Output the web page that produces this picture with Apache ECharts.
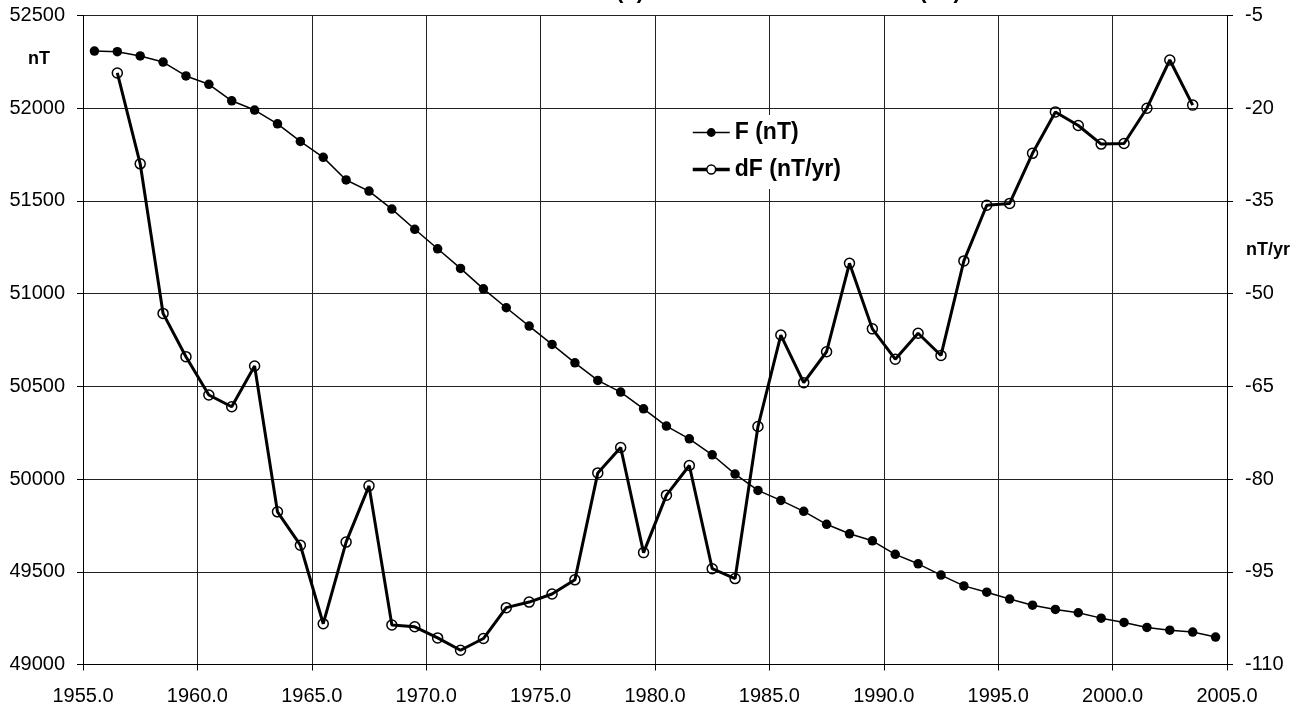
<!DOCTYPE html>
<html>
<head>
<meta charset="utf-8">
<script src="https://cdn.jsdelivr.net/npm/echarts@6/dist/echarts.min.js"></script>
<style>
html,body{margin:0;padding:0;background:#fff;}
#chart{width:1302px;height:707px;}
</style>
</head>
<body>
<div id="chart"></div>
<script>
// Years (mid-year epochs)
var yearsF = [1955.5,1956.5,1957.5,1958.5,1959.5,1960.5,1961.5,1962.5,1963.5,1964.5,
  1965.5,1966.5,1967.5,1968.5,1969.5,1970.5,1971.5,1972.5,1973.5,1974.5,
  1975.5,1976.5,1977.5,1978.5,1979.5,1980.5,1981.5,1982.5,1983.5,1984.5,
  1985.5,1986.5,1987.5,1988.5,1989.5,1990.5,1991.5,1992.5,1993.5,1994.5,
  1995.5,1996.5,1997.5,1998.5,1999.5,2000.5,2001.5,2002.5,2003.5,2004.5];
// Total field F (nT)
var valuesF = [52308,52305,52282,52249,52174,52129,52040,51990,51916,51821,
  51735,51613,51553,51456,51347,51242,51136,51026,50924,50825,
  50726,50627,50532,50469,50379,50286,50217,50131,50027,49939,
  49885,49826,49756,49705,49667,49594,49543,49482,49424,49390,
  49353,49320,49297,49279,49250,49227,49200,49185,49175,49148];
var yearsDF = [1956.5,1957.5,1958.5,1959.5,1960.5,1961.5,1962.5,1963.5,1964.5,
  1965.5,1966.5,1967.5,1968.5,1969.5,1970.5,1971.5,1972.5,1973.5,1974.5,
  1975.5,1976.5,1977.5,1978.5,1979.5,1980.5,1981.5,1982.5,1983.5,1984.5,
  1985.5,1986.5,1987.5,1988.5,1989.5,1990.5,1991.5,1992.5,1993.5,1994.5,
  1995.5,1996.5,1997.5,1998.5,1999.5,2000.5,2001.5,2002.5,2003.5];
// Secular variation dF (nT/yr)
var valuesDF = [-14.3,-29.0,-53.2,-60.2,-66.4,-68.3,-61.7,-85.3,-90.7,
  -103.4,-90.2,-81.1,-103.6,-103.9,-105.7,-107.7,-105.8,-100.8,-99.9,
  -98.6,-96.3,-79.0,-74.9,-91.9,-82.6,-77.8,-94.5,-96.1,-71.5,
  -56.7,-64.4,-59.4,-45.1,-55.7,-60.6,-56.4,-60.0,-44.7,-35.7,
  -35.4,-27.3,-20.6,-22.8,-25.8,-25.7,-20.0,-12.2,-19.5];
var seriesNames = ['F (nT)', 'dF (nT/yr)'];
var leftAxisName = 'nT';
var rightAxisName = 'nT/yr';
var titlePrefix = 'Annual Mean Values of the Total Field ';
var titleText = titlePrefix + '(F) and the Secular Variation (nT)';

var FONT = '"Liberation Sans", Arial, sans-serif';

function pairs(xs, ys){ var out=[]; for(var i=0;i<xs.length;i++){ out.push([xs[i], ys[i]]); } return out; }

var cv = document.createElement('canvas').getContext('2d');
cv.font = 'bold 22px "Liberation Sans"';
var prefixW = cv.measureText(titlePrefix).width;
var titleX = 616 - prefixW;

var chart = echarts.init(document.getElementById('chart'), null, {renderer:'canvas'});
var axisLabelStyle = {color:'#000', fontFamily:FONT, fontSize:20};
chart.setOption({
  animation:false,
  backgroundColor:'#fff',
  textStyle:{fontFamily:FONT},
  grid:{left:83, right:75, top:15.5, bottom:42.5, containLabel:false},
  legend:{
    orient:'vertical', left:685, top:115, itemWidth:37, itemHeight:11, itemGap:14,
    backgroundColor:'#fff', padding:[6,8,8,6],
    textStyle:{fontFamily:FONT, fontSize:23, fontWeight:'bold', color:'#000'},
    data:[
      {name:seriesNames[0], itemStyle:{color:'#000', borderWidth:0}, lineStyle:{color:'#000', width:1.5}},
      {name:seriesNames[1], itemStyle:{color:'#fff', borderColor:'#000', borderWidth:1.5}, lineStyle:{color:'#000', width:3.5}}
    ]
  },
  xAxis:{
    type:'value', min:1955, max:2005, interval:5,
    axisLine:{show:true, onZero:false, lineStyle:{color:'#000', width:1}},
    axisTick:{show:true, inside:false, length:6, lineStyle:{color:'#000'}},
    axisLabel:Object.assign({margin:22, formatter:function(v){return v.toFixed(1);}}, axisLabelStyle),
    splitLine:{show:true, lineStyle:{color:'#222', width:1}}
  },
  yAxis:[{
    type:'value', min:49000, max:52500, interval:500, position:'left',
    axisLine:{show:true, onZero:false, lineStyle:{color:'#000'}},
    axisTick:{show:true, inside:false, length:6, lineStyle:{color:'#000'}},
    axisLabel:Object.assign({margin:18, formatter:function(v){return String(v);}}, axisLabelStyle),
    splitLine:{show:true, lineStyle:{color:'#222', width:1}}
  },{
    type:'value', min:-110, max:-5, alignTicks:true, position:'right',
    axisLine:{show:true, onZero:false, lineStyle:{color:'#000'}},
    axisTick:{show:true, inside:false, length:6, lineStyle:{color:'#000'}},
    axisLabel:Object.assign({margin:18, formatter:function(v){return String(v);}}, axisLabelStyle),
    splitLine:{show:false}
  }],
  series:[{
    name:seriesNames[0], type:'line', yAxisIndex:0, data:pairs(yearsF, valuesF),
    symbol:'circle', symbolSize:9.5, showSymbol:true,
    lineStyle:{color:'#000', width:1.5},
    itemStyle:{color:'#000', borderWidth:0},
    z:3
  },{
    name:seriesNames[1], type:'line', yAxisIndex:1, data:pairs(yearsDF, valuesDF),
    symbol:'circle', symbolSize:10, showSymbol:true,
    lineStyle:{color:'#000', width:3},
    itemStyle:{color:'rgba(255,255,255,0)', borderColor:'#000', borderWidth:1.5},
    z:4
  }],
  graphic:[
    {type:'text', x:titleX, y:-8, style:{text:titleText, fill:'#000', font:'bold 22px '+FONT, align:'left', verticalAlign:'middle'}},
    {type:'text', x:39, y:59, style:{text:leftAxisName, fill:'#000', font:'bold 18px '+FONT, align:'center', verticalAlign:'middle'}},
    {type:'text', x:1268, y:250, style:{text:rightAxisName, fill:'#000', font:'bold 18px '+FONT, align:'center', verticalAlign:'middle'}}
  ]
});
</script>
</body>
</html>
